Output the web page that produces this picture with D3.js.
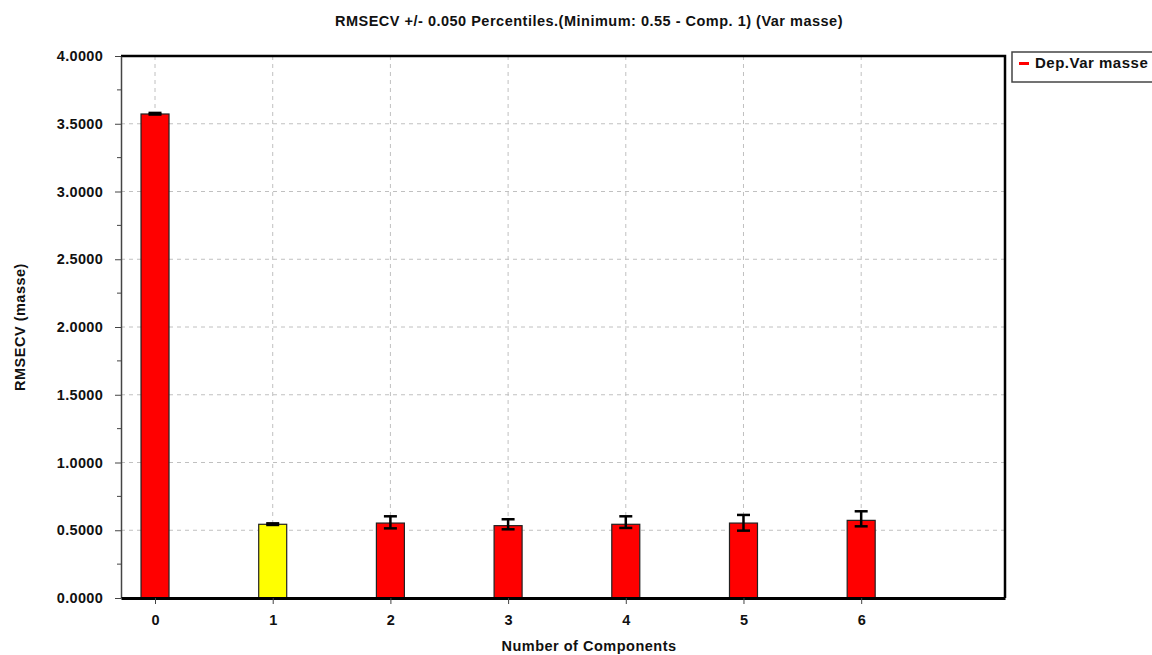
<!DOCTYPE html>
<html>
<head>
<meta charset="utf-8">
<script src="https://cdn.jsdelivr.net/npm/d3@7"></script>
<style>
  body { margin: 0; background: #fff; }
  text { font-family: "Liberation Sans", Arial, sans-serif; font-weight: bold; }
</style>
</head>
<body>
<div class="chart"></div>
<script>
/* data */
const components = [0, 1, 2, 3, 4, 5, 6];
const rmsecv = [3.572, 0.544, 0.553, 0.534, 0.544, 0.553, 0.573];
const errLow = [3.568, 0.539, 0.514, 0.507, 0.517, 0.497, 0.529];
const errHigh = [3.580, 0.551, 0.603, 0.581, 0.603, 0.613, 0.640];
const minimumIndex = 1; // the chosen component drawn in yellow
const yTicks = [0, 0.5, 1, 1.5, 2, 2.5, 3, 3.5, 4];
const yMinorTicks = [0.25, 0.75, 1.25, 1.75, 2.25, 2.75, 3.25, 3.75];
const titleText = "RMSECV +/- 0.050 Percentiles.(Minimum: 0.55 - Comp. 1) (Var masse)";
const legendLabel = "Dep.Var masse";

const width = 1152, height = 655;
const margin = { top: 56, right: 147, bottom: 57, left: 121 };
const plotW = width - margin.left - margin.right;
const plotH = height - margin.top - margin.bottom;
const barWidth = 28;
const fontSize = 14.5, letterSp = "0.5px";

const svg = d3.select(".chart").append("svg")
    .attr("width", width)
    .attr("height", height);

const x = d3.scaleLinear().domain([-0.289, 7.222]).range([0, plotW]);
const y = d3.scaleLinear().domain([0, 4]).range([plotH, 0]);

const g = svg.append("g").attr("transform", `translate(${margin.left},${margin.top})`);

// dashed grid
g.append("g").selectAll("line.hgrid")
    .data(yTicks.slice(1, -1))
    .enter().append("line")
    .attr("x1", 0).attr("x2", plotW)
    .attr("y1", d => y(d)).attr("y2", d => y(d))
    .attr("stroke", "#c0c0c0").attr("stroke-dasharray", "4,4");
g.append("g").selectAll("line.vgrid")
    .data(components)
    .enter().append("line")
    .attr("x1", d => x(d)).attr("x2", d => x(d))
    .attr("y1", 0).attr("y2", plotH)
    .attr("stroke", "#c0c0c0").attr("stroke-dasharray", "4,4");

// bars
g.selectAll("rect.bar")
    .data(components)
    .enter().append("rect")
    .attr("class", "bar")
    .attr("x", d => x(d) - barWidth / 2)
    .attr("width", barWidth)
    .attr("y", (d, i) => y(rmsecv[i]))
    .attr("height", (d, i) => plotH - y(rmsecv[i]))
    .attr("fill", (d, i) => i === minimumIndex ? "#ffff00" : "#ff0000")
    .attr("stroke", "#222").attr("stroke-width", 1.2);

// error bars
const err = g.append("g").attr("stroke", "#000").attr("stroke-width", 2.5);
components.forEach((c, i) => {
    const cx = x(c);
    err.append("line").attr("x1", cx).attr("x2", cx)
        .attr("y1", y(errLow[i])).attr("y2", y(errHigh[i]));
    [errLow[i], errHigh[i]].forEach(v => {
        err.append("line").attr("x1", cx - 6.5).attr("x2", cx + 6.5)
            .attr("y1", y(v)).attr("y2", y(v));
    });
});

// frame: top and right border
g.append("path")
    .attr("d", `M0,0H${plotW}V${plotH}`)
    .attr("fill", "none").attr("stroke", "#000").attr("stroke-width", 2.5);

// y axis
const yAxis = g.append("g")
    .call(d3.axisLeft(y).tickValues(yTicks).tickFormat(d3.format(".4f"))
        .tickSize(6).tickSizeOuter(0).tickPadding(12));
yAxis.select(".domain").attr("stroke", "#444").attr("stroke-width", 1.5);
yAxis.selectAll(".tick line").attr("stroke", "#444");
yAxis.selectAll("text").attr("font-size", fontSize).attr("fill", "#111")
    .style("font-family", "'Liberation Sans', Arial, sans-serif").style("font-weight", "bold")
    .style("letter-spacing", "0.3px");
g.append("g").selectAll("line.minor")
    .data(yMinorTicks)
    .enter().append("line")
    .attr("x1", -4).attr("x2", 0)
    .attr("y1", d => y(d)).attr("y2", d => y(d))
    .attr("stroke", "#444");

// x axis
const xAxis = g.append("g")
    .attr("transform", `translate(0,${plotH})`)
    .call(d3.axisBottom(x).tickValues(components).tickFormat(d3.format("d"))
        .tickSize(6).tickSizeOuter(0).tickPadding(11));
xAxis.select(".domain").attr("stroke", "#000").attr("stroke-width", 3);
xAxis.selectAll(".tick line").attr("stroke", "#444");
xAxis.selectAll("text").attr("font-size", fontSize).attr("fill", "#111")
    .style("font-family", "'Liberation Sans', Arial, sans-serif").style("font-weight", "bold");

// titles
svg.append("text")
    .attr("x", margin.left + plotW / 2 + 26).attr("y", 26)
    .attr("text-anchor", "middle").attr("font-size", fontSize).attr("fill", "#111")
    .style("letter-spacing", letterSp)
    .text(titleText);
svg.append("text")
    .attr("x", margin.left + plotW / 2 + 26).attr("y", 651)
    .attr("text-anchor", "middle").attr("font-size", fontSize).attr("fill", "#111")
    .style("letter-spacing", letterSp)
    .text("Number of Components");
svg.append("text")
    .attr("transform", `translate(25,${margin.top + plotH / 2}) rotate(-90)`)
    .attr("text-anchor", "middle").attr("font-size", fontSize).attr("fill", "#111")
    .style("letter-spacing", letterSp)
    .text("RMSECV (masse)");

// legend
const legend = svg.append("g").attr("transform", "translate(1012,52)");
legend.append("rect")
    .attr("width", 150).attr("height", 30)
    .attr("fill", "#fff").attr("stroke", "#444").attr("stroke-width", 1.5);
legend.append("line")
    .attr("x1", 7).attr("x2", 17).attr("y1", 11.5).attr("y2", 11.5)
    .attr("stroke", "#ff0000").attr("stroke-width", 3);
legend.append("text")
    .attr("x", 23).attr("y", 15.5)
    .attr("font-size", 15).attr("fill", "#111")
    .style("letter-spacing", letterSp)
    .text(legendLabel);
</script>
</body>
</html>
